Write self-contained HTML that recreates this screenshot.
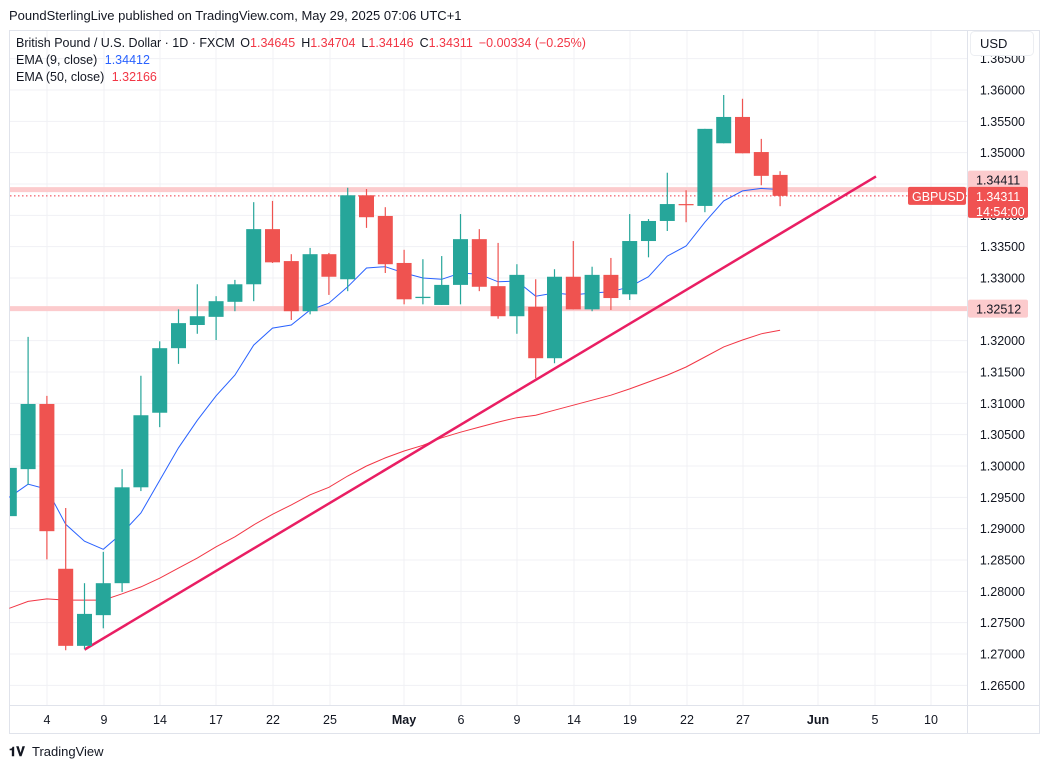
<!DOCTYPE html>
<html><head><meta charset="utf-8"><style>
body{margin:0;background:#fff;width:1048px;height:768px;overflow:hidden;font-family:"Liberation Sans",sans-serif;}
svg{display:block}
</style></head><body>
<svg id="c" width="1048" height="768" xmlns="http://www.w3.org/2000/svg" font-family="Liberation Sans, sans-serif">
<text x="9" y="20" font-size="13" fill="#131722">PoundSterlingLive published on TradingView.com, May 29, 2025 07:06 UTC+1</text>
<rect x="9.5" y="30.5" width="1030" height="703" fill="none" stroke="#e0e3eb"/>
<g id="grid"></g>
<g id="plot"></g>
<line x1="967.5" y1="31" x2="967.5" y2="733" stroke="#e0e3eb"/>
<line x1="10" y1="705.5" x2="1039" y2="705.5" stroke="#e0e3eb"/>
<g id="yaxis"></g>
<g id="xaxis"></g>
<g font-size="12.5">
<text x="16" y="47" fill="#131722">British Pound / U.S. Dollar · 1D · FXCM <tspan dx="2">O</tspan><tspan fill="#f23645">1.34645</tspan><tspan dx="6">H</tspan><tspan fill="#f23645">1.34704</tspan><tspan dx="6">L</tspan><tspan fill="#f23645">1.34146</tspan><tspan dx="6">C</tspan><tspan fill="#f23645">1.34311</tspan><tspan dx="6" fill="#f23645">−0.00334 (−0.25%)</tspan></text>
<text x="16" y="64" fill="#131722">EMA (9, close) <tspan dx="4" fill="#2962ff">1.34412</tspan></text>
<text x="16" y="81" fill="#131722">EMA (50, close) <tspan dx="4" fill="#f23645">1.32166</tspan></text>
</g>
<rect x="970.5" y="31.5" width="63" height="24" rx="4" fill="#fff" stroke="#eceef2"/>
<text x="980" y="48" font-size="13" fill="#131722">USD</text>
<g>
<text x="9" y="756" font-size="13" font-weight="bold" fill="#131722">𝟏𝐕</text>
<text x="32" y="756" font-size="13" fill="#131722">TradingView</text>
</g>
</svg>
<script>
const opens=[1.2920,1.2995,1.3099,1.2836,1.2713,1.2762,1.2813,1.2966,1.3085,1.3188,1.3225,1.3238,1.3262,1.3290,1.3378,1.3327,1.3247,1.3338,1.3298,1.3432,1.3399,1.3324,1.3268,1.3257,1.3289,1.3362,1.3287,1.3239,1.3254,1.3172,1.3302,1.3250,1.3305,1.3274,1.3359,1.3391,1.3418,1.3415,1.3515,1.3557,1.3501,1.34645];
const highs=[1.3024,1.3206,1.3112,1.2933,1.2813,1.2863,1.2995,1.3144,1.3199,1.3250,1.3290,1.3271,1.3297,1.3421,1.3423,1.3338,1.3348,1.3340,1.3444,1.3442,1.3413,1.3345,1.3330,1.3335,1.3402,1.3378,1.3356,1.3322,1.3298,1.3314,1.3359,1.3318,1.3332,1.3402,1.3394,1.3468,1.3440,1.3538,1.3592,1.3586,1.3522,1.34704];
const lows=[1.2899,1.2970,1.2851,1.2706,1.2708,1.2741,1.2799,1.2960,1.3062,1.3163,1.3211,1.3201,1.3247,1.3263,1.3324,1.3233,1.3242,1.3273,1.3279,1.3380,1.3308,1.3258,1.3258,1.3257,1.3258,1.3279,1.3235,1.3211,1.3140,1.3164,1.3250,1.3247,1.3249,1.3265,1.3333,1.3375,1.3389,1.3405,1.3515,1.3499,1.3448,1.34146];
const closes=[1.2997,1.3099,1.2896,1.2713,1.2764,1.2813,1.2966,1.3081,1.3188,1.3228,1.3239,1.3263,1.3290,1.3378,1.3325,1.3247,1.3338,1.3302,1.3432,1.3397,1.3322,1.3266,1.3270,1.3289,1.3362,1.3286,1.3239,1.3305,1.3172,1.3302,1.3250,1.3305,1.3268,1.3359,1.3391,1.3418,1.3417,1.3538,1.3557,1.3499,1.3463,1.34311];
const ema9=[1.2950,1.2971,1.2963,1.2907,1.2880,1.2867,1.2893,1.2925,1.2977,1.3029,1.3073,1.3112,1.3145,1.3193,1.3220,1.3225,1.3249,1.3260,1.3286,1.3316,1.3318,1.3308,1.3300,1.3298,1.3308,1.3306,1.3294,1.3295,1.3271,1.3276,1.3273,1.3276,1.3278,1.3286,1.3302,1.3335,1.3351,1.3389,1.3423,1.3439,1.3443,1.34412];
const ema50=[1.2773,1.2784,1.2788,1.2786,1.2786,1.2786,1.2796,1.2807,1.2821,1.2837,1.2853,1.2871,1.2887,1.2906,1.2923,1.2938,1.2954,1.2966,1.2984,1.3000,1.3013,1.3024,1.3033,1.3045,1.3054,1.3062,1.3070,1.3077,1.3081,1.3089,1.3097,1.3105,1.3113,1.3123,1.3134,1.3145,1.3158,1.3174,1.3190,1.3201,1.3211,1.32166];
const priceTicks=[1.365,1.36,1.355,1.35,1.345,1.34,1.335,1.33,1.325,1.32,1.315,1.31,1.305,1.30,1.295,1.29,1.285,1.28,1.275,1.27,1.265];
const dateLabels=["4","9","14","17","22","25","May","6","9","14","19","22","27","Jun","5","10"];
const dateIndex=[2,5,8,10,13,15,19,22,24,27,30,32,35,38,40,43];
const levels=[1.34411,1.32512];
const trendStart=[4,1.2707];
const trendEnd=[46.1,1.3462];
const lastPrice=1.34311;

const NS="http://www.w3.org/2000/svg";
const X=i=>9.3+18.8*i;
const Y=p=>90+(1.36-p)*6266.7;
// dateIndex maps labels to bar slots; label x uses trading-day slot offset
function mk(parent,tag,attrs){const e=document.createElementNS(NS,tag);for(const k in attrs)e.setAttribute(k,attrs[k]);parent.appendChild(e);return e;}
const grid=document.getElementById('grid'),plot=document.getElementById('plot'),ya=document.getElementById('yaxis'),xa=document.getElementById('xaxis');
const labelX=[47,104,160,216,273,330,404,461,517,574,630,687,743,818,875,931];
priceTicks.forEach(p=>{const y=Y(p);if(y<31||y>705)return;
 const g=mk(grid,'line',{x1:10,x2:967,y1:y,y2:y,stroke:'#f0f1f4'});
 
 
 const t=mk(ya,'text',{x:1025,y:y+4.5,'text-anchor':'end','font-size':12.5,fill:'#131722'});t.textContent=p.toFixed(5);
 
 
});
dateLabels.forEach((d,k)=>{const x=X(dateIndex[k]) + (labelX[k]-X(dateIndex[k]));
 const g=mk(grid,'line',{x1:x,x2:x,y1:31,y2:705,stroke:'#f0f1f4'});
 
 
 const t=mk(xa,'text',{x:x,y:724,'text-anchor':'middle','font-size':12.5,fill:'#131722','font-weight':(d=='May'||d=='Jun')?'bold':'normal'});t.textContent=d;
 
 
});
// horizontal levels
levels.forEach(l=>{const r=mk(plot,'line',{x1:10,x2:967,y1:Y(l),y2:Y(l),stroke:'#fccbcd','stroke-width':5});
 
 
});
const dl=mk(plot,'line',{x1:10,x2:967,y1:Y(lastPrice),y2:Y(lastPrice),stroke:'#f23645','stroke-width':1,'stroke-dasharray':'1.5 2.5'});


// EMAs
function line(arr,col,w,name){const d=arr.map((v,i)=>(i?'L':'M')+X(i).toFixed(1)+' '+Y(v).toFixed(1)).join(' ');
 const p=mk(plot,'path',{d:d,fill:'none',stroke:col,'stroke-width':w});
 
 }
line(ema50,'#f23645',1,'ema50-line');
line(ema9,'#2962ff',1,'ema9-line');
// trendline
const tl=mk(plot,'line',{x1:X(trendStart[0]),y1:Y(trendStart[1]),x2:X(trendEnd[0]),y2:Y(trendEnd[1]),stroke:'#e91e63','stroke-width':2.5});


// candles
opens.forEach((o,i)=>{const c=closes[i],up=c>=o,col=up?'#26a69a':'#ef5350',x=X(i);
 const g=mk(plot,'g',{});
 
 
 const x0=Math.max(10,x-7.5),x1=x+7.5;
 if(x>=10) mk(g,'line',{x1:x,x2:x,y1:Y(highs[i]),y2:Y(lows[i]),stroke:col,'stroke-width':1.2});
 const top=Y(Math.max(o,c)),h=Math.max(1.2,Math.abs(Y(o)-Y(c)));
 mk(g,'rect',{x:x0,y:top,width:x1-x0,height:h,fill:col});
});
// price axis badges
function badge(y,h,fill,txt,txtCol,name){const g=mk(ya,'g',{});
 
 
 mk(g,'rect',{x:968,y:y,width:60,height:h,rx:2,fill:fill});
 txt.forEach((t,k)=>{const e=mk(g,'text',{x:976,y:y+14+k*15,'font-size':12.5,fill:txtCol});e.textContent=t;});}
badge(Y(levels[0])-19,18,'#fccbcd',[levels[0].toFixed(5)],'#131722','level-badge-upper');
badge(Y(levels[1])-9,18,'#fccbcd',[levels[1].toFixed(5)],'#131722','level-badge-lower');
badge(Y(lastPrice)-9,31,'#f05252',[lastPrice.toFixed(5),'14:54:00'],'#fff','last-price-badge');
const sb=mk(ya,'g',{});


mk(sb,'rect',{x:908,y:Y(lastPrice)-9,width:58,height:18,rx:2,fill:'#f05252'});
const st=mk(sb,'text',{x:912,y:Y(lastPrice)+5,'font-size':12.5,fill:'#fff'});st.textContent='GBPUSD';
</script>
</body></html>
